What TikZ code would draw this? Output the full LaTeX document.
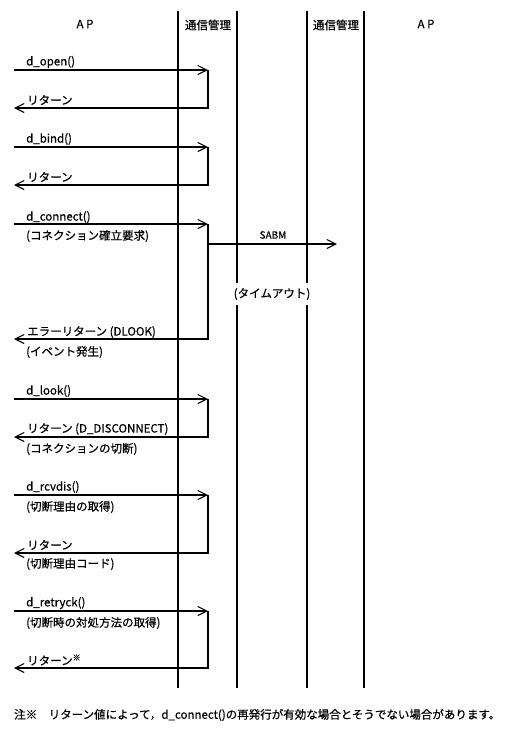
\documentclass[tikz,border=0pt]{standalone}
\usepackage{fontspec}
\setmainfont{Noto Sans CJK JP}[FakeBold=0.6,AutoFakeBold=0.6]
\usetikzlibrary{arrows.meta}
\begin{document}
\begin{tikzpicture}[x=1pt,y=1pt,
  every node/.style={font=\fontsize{11.5}{13}\selectfont\bfseries, inner sep=0pt},
  life/.style={line width=1.5pt},
  lifethick/.style={line width=2pt},
  msg/.style={line width=1.1pt, -{Straight Barb[length=9pt,width=9pt,line width=1.1pt]}},
  lbl/.style={anchor=west},
  hdr/.style={anchor=center}]
\useasboundingbox (0,0) rectangle (524,-732);
% lifelines
\coordinate (L1t) at (178,-11); \coordinate (L1b) at (178,-688);
\coordinate (L2t) at (237,-11); \coordinate (L2b) at (237,-688);
\coordinate (L3t) at (307,-11); \coordinate (L3b) at (307,-688);
\coordinate (L4t) at (364,-11); \coordinate (L4b) at (364,-688);
\draw[lifethick] (L1t) -- (L1b);
\draw[life] (L2t) -- (L2b);
\draw[life] (L3t) -- (L3b);
\draw[lifethick] (L4t) -- (L4b);
% headers
\node[hdr] (h1) at (85,-24) {A P};
\node[hdr] (h2) at (208,-25) {通信管理};
\node[hdr] (h3) at (336,-25) {通信管理};
\node[hdr] (h4) at (426,-24) {A P};

% d_open
\coordinate (a1) at (14,-70); \coordinate (b1) at (208,-70);
\coordinate (c1) at (208,-108); \coordinate (d1) at (14,-108);
\draw[msg] (a1) -- (b1);
\draw[msg] (b1) -- (c1) -- (d1);
\node[lbl] (t1) at (26,-62) {d\_open()};
\node[lbl] (r1) at (27,-100) {リターン};

% d_bind
\coordinate (a2) at (14,-147); \coordinate (b2) at (208,-147);
\coordinate (c2) at (208,-185); \coordinate (d2) at (14,-185);
\draw[msg] (a2) -- (b2);
\draw[msg] (b2) -- (c2) -- (d2);
\node[lbl] (t2) at (26,-139) {d\_bind()};
\node[lbl] (r2) at (27,-177) {リターン};

% d_connect
\coordinate (a3) at (14,-224); \coordinate (b3) at (208,-224);
\coordinate (c3) at (208,-339); \coordinate (d3) at (14,-339);
\coordinate (s3) at (208,-244); \coordinate (e3) at (337,-244);
\draw[msg] (a3) -- (b3);
\draw[msg] (b3) -- (c3) -- (d3);
\draw[msg] (s3) -- (e3);
\node[lbl] (t3) at (26,-217) {d\_connect()};
\node[lbl] (u3) at (26,-236) {(コネクション確立要求)};
\node[hdr, font=\fontsize{10}{11}\selectfont\bfseries] (sabm) at (273,-235) {SABM};
\node[hdr, fill=white, inner xsep=1pt, inner ysep=5pt] (to) at (272,-294) {(タイムアウト)};
\node[lbl] (r3) at (27,-332) {エラーリターン (DLOOK)};
\node[lbl] (v3) at (26,-352) {(イベント発生)};

% d_look
\coordinate (a4) at (14,-399); \coordinate (b4) at (208,-399);
\coordinate (c4) at (208,-437); \coordinate (d4) at (14,-437);
\draw[msg] (a4) -- (b4);
\draw[msg] (b4) -- (c4) -- (d4);
\node[lbl] (t4) at (26,-391) {d\_look()};
\node[lbl] (r4) at (27,-429) {リターン (D\_DISCONNECT)};
\node[lbl] (v4) at (26,-449) {(コネクションの切断)};

% d_rcvdis
\coordinate (a5) at (14,-495); \coordinate (b5) at (208,-495);
\coordinate (c5) at (208,-553); \coordinate (d5) at (14,-553);
\draw[msg] (a5) -- (b5);
\draw[msg] (b5) -- (c5) -- (d5);
\node[lbl] (t5) at (26,-487) {d\_rcvdis()};
\node[lbl] (u5) at (26,-507) {(切断理由の取得)};
\node[lbl] (r5) at (27,-545) {リターン};
\node[lbl] (v5) at (26,-564) {(切断理由コード)};

% d_retryck
\coordinate (a6) at (14,-611); \coordinate (b6) at (208,-611);
\coordinate (c6) at (208,-668); \coordinate (d6) at (14,-668);
\draw[msg] (a6) -- (b6);
\draw[msg] (b6) -- (c6) -- (d6);
\node[lbl] (t6) at (26,-603) {d\_retryck()};
\node[lbl] (u6) at (26,-623) {(切断時の対処方法の取得)};
\node[lbl] (r6) at (27,-660) {リターン\raisebox{0.7ex}{\fontsize{8}{9}\selectfont\bfseries ※}};

% footnote
\node[lbl] (fn) at (14,-715) {注※　リターン値によって，d\_connect()の再発行が有効な場合とそうでない場合があります。};
\end{tikzpicture}
\end{document}
